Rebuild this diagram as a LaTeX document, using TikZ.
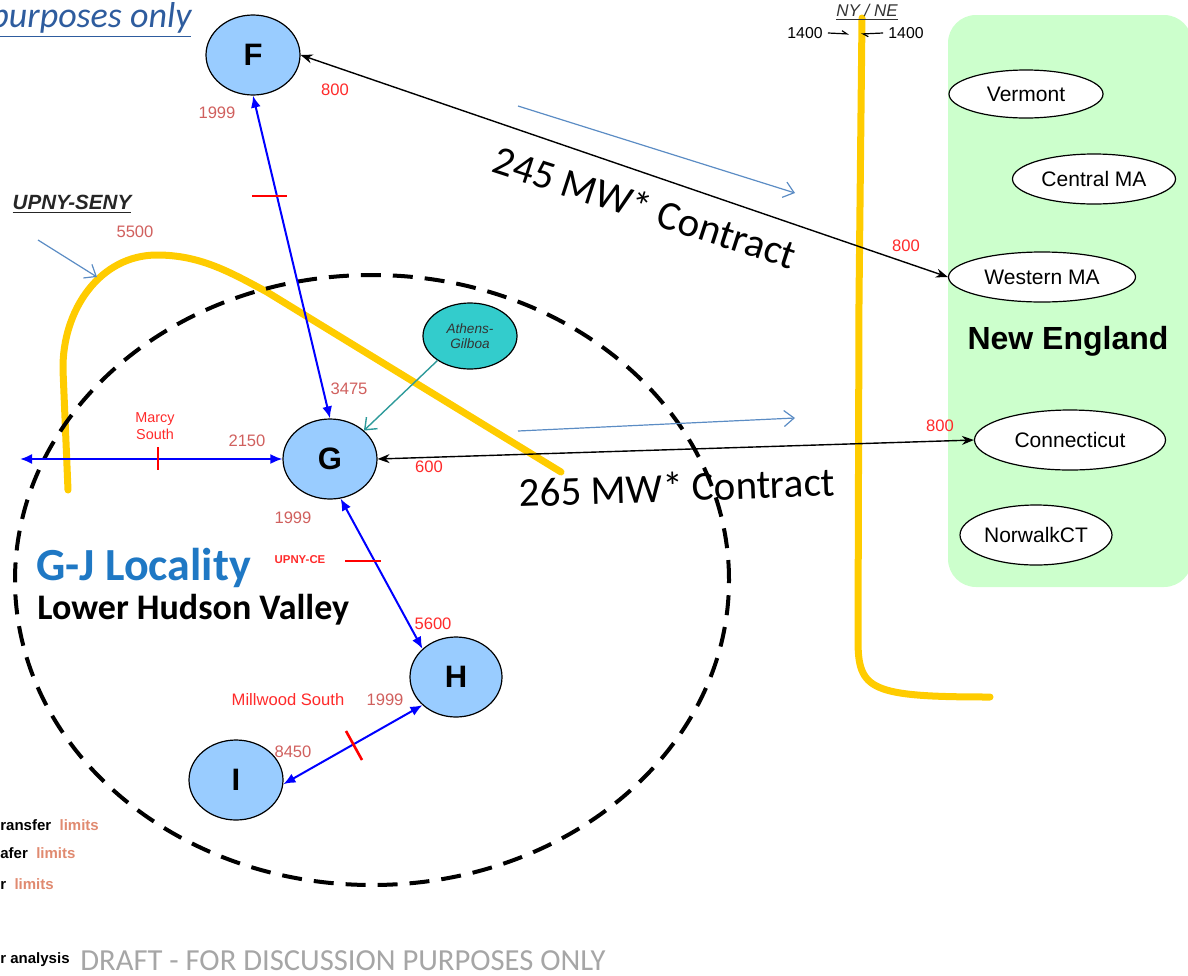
\documentclass[tikz,border=0pt]{standalone}
\usepackage{fontspec}
\setmainfont{Liberation Sans}
\newfontfamily\calfont{Carlito}
\usetikzlibrary{arrows.meta,shapes.geometric}

\definecolor{zonefill}{HTML}{99CCFF}
\definecolor{teal}{HTML}{33CCCC}
\definecolor{tealline}{HTML}{2E9A9A}
\definecolor{hintblue}{HTML}{5B8CC4}
\definecolor{yellowline}{HTML}{FFCC00}
\definecolor{nefill}{HTML}{CCFFCC}
\definecolor{limred}{HTML}{FF2A2A}
\definecolor{limsoft}{HTML}{D0605E}
\definecolor{locblue}{HTML}{1F78C4}
\definecolor{notegray}{HTML}{A6A6A6}
\definecolor{titleblue}{HTML}{2E5C9E}
\definecolor{legendsalmon}{HTML}{E08A70}

\newcommand{\fsz}[1]{\fontsize{#1}{#1}\selectfont}

\begin{document}
\begin{tikzpicture}[x=0.5pt,y=-0.5pt,
  zone/.style={ellipse, draw=black, line width=0.6pt, fill=zonefill,
    minimum width=47pt, minimum height=40pt, inner sep=0pt, font=\fsz{15.5}\bfseries},
  area/.style={ellipse, draw=black, line width=0.6pt, fill=white, inner sep=0pt,
    font=\fsz{10.5}},
  flow/.style={blue, line width=1pt,
    {Latex[length=6pt,width=5pt]}-{Latex[length=6pt,width=5pt]}},
  tie/.style={black, line width=0.7pt,
    {Stealth[length=6pt,width=4.5pt]}-{Stealth[length=6pt,width=4.5pt]}},
  cut/.style={red, line width=1.3pt},
  hint/.style={hintblue, line width=0.6pt, -{Straight Barb[length=5pt,width=8pt]}},
  border/.style={yellowline, line width=3.5pt, line cap=round},
  lim/.style={text=limred, inner sep=0pt, font=\fsz{8.3}},
  limsoft/.style={text=limsoft, inner sep=0pt, font=\fsz{8.3}},
  tiny/.style={inner sep=0pt, font=\fsz{7.5}\bfseries},
]
\useasboundingbox (0,0) rectangle (1188,975);

% New England region
\fill[nefill, rounded corners=14pt] (948,15) rectangle (1192,587);

% interface boundaries
\draw[border] (68,490) -- (63,370) .. controls (62,310) and (100,255) .. (157,255)
  .. controls (200,255) and (230,272) .. (267,292) -- (561,472);
\draw[border] (862,18) -- (859,300) -- (858,640) .. controls (858,690) and (870,697) .. (990,697);

% locality boundary
\draw[black, line width=2pt, dash pattern=on 10pt off 6pt]
  (372,580) ellipse [x radius=178.5pt, y radius=152.5pt];

% zones
\node[zone] (F) at (253,55) {F};
\node[zone] (G) at (330,459) {G};
\node[zone, minimum width=46pt] (H) at (456,677) {H};
\node[zone] (I) at (236,780) {I};
\node[ellipse, draw=black, line width=0.6pt, fill=teal, minimum width=47pt,
  minimum height=33pt, inner sep=0pt, align=center, font=\fsz{6.8}\itshape,
  text=black!80] (A) at (470,336) {Athens-\\[1pt]Gilboa};

% New England areas
\node[area, minimum width=77pt, minimum height=24pt] (VT) at (1026,94) {Vermont};
\node[area, minimum width=81.5pt, minimum height=25pt] (CMA) at (1094,179) {Central MA};
\node[area, minimum width=93.5pt, minimum height=25pt] (WMA) at (1042,277) {Western MA};
\node[area, minimum width=95.5pt, minimum height=30pt] (CT) at (1070,440) {Connecticut};
\node[area, minimum width=76pt, minimum height=30pt] (NCT) at (1036,535) {NorwalkCT};
\node[font=\fsz{16}\bfseries] (NE) at (1068,341) {New England};

% internal interfaces
\coordinate (west) at (20,459);
\draw[flow] (F.south) -- (G.north);
\draw[flow] (west) -- (G.west);
\draw[flow] (G.-75) -- (H.140);
\draw[flow] (H.220) -- (I.-5);
\draw[tealline, line width=0.7pt, -{Straight Barb[length=5pt,width=8pt]}] (A.217) -- (G.40);

% external ties
\draw[tie] (F.east) -- (WMA.west);
\draw[tie] (G.east) -- (CT.west);

% constrained interfaces
\draw[cut] (252,196) -- (287,196);
\draw[cut] (158,447) -- (158,470);
\draw[cut] (345,561) -- (381,561);
\draw[cut] (346,731) -- (362,760);

% flow direction hints
\coordinate (h1a) at (518,106); \coordinate (h1b) at (795,193);
\coordinate (h2a) at (518,431); \coordinate (h2b) at (795,418);
\coordinate (h3a) at (38,240);  \coordinate (h3b) at (97,277);
\draw[hint] (h1a) -- (h1b);
\draw[hint] (h2a) -- (h2b);
\draw[hint] (h3a) -- (h3b);

% limits
\node[lim] (l800f) at (335,90) {800};
\node[limsoft] (l1999f) at (217,113) {1999};
\node[lim] (l800w) at (906,246) {800};
\node[limsoft] (l5500) at (135,232) {5500};
\node[limsoft] (l3475) at (349,389) {3475};
\node[lim, font=\fsz{7.2}, align=center] (lms) at (155,426) {Marcy\\[1pt]South};
\node[limsoft] (l2150) at (247,441) {2150};
\node[lim] (l600) at (429,467) {600};
\node[lim] (l800c) at (940,426) {800};
\node[limsoft] (l1999g) at (293,518) {1999};
\node[lim, font=\fsz{5.7}\bfseries] (lce) at (300,560) {UPNY-CE};
\node[lim] (l5600) at (433,624) {5600};
\node[lim] (lmw) at (288,700) {Millwood South};
\node[limsoft] (l1999h) at (385,700) {1999};
\node[limsoft] (l8450) at (293,752) {8450};

% interface names
\node[inner sep=0pt, font=\fsz{10.3}\bfseries\itshape, text=black!85] (seny) at (72,204)
  {\underline{UPNY-SENY}};
\node[inner sep=0pt, font=\fsz{8.5}\itshape, text=black!80] (nyne) at (867,12)
  {\underline{NY / NE}};
\node[inner sep=0pt, font=\fsz{7.9}] (n1400a) at (805,33) {1400};
\node[inner sep=0pt, font=\fsz{7.9}] (n1400b) at (906,33) {1400};
\coordinate (ta) at (849,34); \coordinate (tb) at (861,34);
\draw[black, line width=0.6pt, -{Straight Barb[left, length=2.5pt, width=3pt]}]
  (n1400a.east) ++(5,0) -- (ta);
\draw[black, line width=0.6pt, -{Straight Barb[left, length=2.5pt, width=3pt]}]
  (n1400b.west) ++(-5,0) -- (tb);

% contracts
\node[font=\calfont\fsz{20.5}, rotate=-18] (c245) at (645,207) {245 MW* Contract};
\node[font=\calfont\fsz{20.5}, rotate=2] (c265) at (677,487) {265 MW* Contract};

% locality titles
\node[anchor=west, inner sep=0pt, font=\calfont\fsz{23}\bfseries, text=locblue] (loc) at (36,568)
  {G-J Locality};
\node[anchor=west, inner sep=0pt, font=\calfont\fsz{18}\bfseries] (lhv) at (37,610)
  {Lower Hudson Valley};

% header and footer
\node[anchor=west, inner sep=0pt, font=\calfont\fsz{18}\itshape, text=titleblue] (hdr) at (-10,20)
  {\underline{purposes only}};
\node[anchor=west, inner sep=0pt, font=\calfont\fsz{15.3}, text=notegray] (draft) at (80,961)
  {DRAFT - FOR DISCUSSION PURPOSES ONLY};

% legend fragments
\node[tiny, anchor=west] (g1) at (0,825) {ransfer\ \ \textcolor{legendsalmon}{limits}};
\node[tiny, anchor=west] (g2) at (0,853) {afer\ \ \textcolor{legendsalmon}{limits}};
\node[tiny, anchor=west] (g3) at (0,884) {r\ \ \textcolor{legendsalmon}{limits}};
\node[tiny, anchor=west] (g4) at (0,960) {r analysis};
\end{tikzpicture}
\end{document}
